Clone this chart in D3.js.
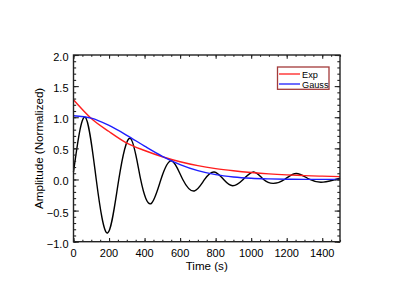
<!DOCTYPE html>
<html>
<head>
<meta charset="utf-8">
<script src="https://cdn.jsdelivr.net/npm/d3@7"></script>
<style>
  body { margin: 0; background: white; }
</style>
</head>
<body>
<script>
const width = 415, height = 297;

// data
const timeGrid = [0, 100, 200, 300, 400, 500, 600, 700, 800, 900, 1000, 1100, 1200, 1300, 1400, 1500];
const expValues = [1.28, 0.98, 0.77, 0.585, 0.465, 0.365, 0.285, 0.222, 0.175, 0.14, 0.112, 0.09, 0.074, 0.062, 0.053, 0.045];
const gaussValues = [1.025, 0.985, 0.868, 0.71, 0.536, 0.373, 0.24, 0.142, 0.078, 0.04, 0.019, 0.009, 0.004, 0.002, 0.001, 0.001];

const signalTime = [0, 65, 128, 192, 255, 320, 378, 435, 492, 552, 615, 680, 738, 792, 845, 896, 955, 1014, 1070, 1125, 1188, 1254, 1330, 1405, 1500];
const signalValues = [0.12, 1.0, 0.0, -0.86, 0.0, 0.66, 0.0, -0.39, 0.0, 0.3, 0.0, -0.185, 0.0, 0.12, 0.0, -0.1, 0.0, 0.12, 0.0, -0.062, 0.0, 0.097, 0.0, -0.043, 0.02];

const xMajor = [0, 200, 400, 600, 800, 1000, 1200, 1400];
const yMajor = [-1.0, -0.5, 0.0, 0.5, 1.0, 1.5, 2.0];
const legendNames = ["Exp", "Gauss"];
const legendColors = ["#ff1e1e", "#1e1eff"];

const plotLeft = 73.5, plotRight = 340, plotTop = 55, plotBottom = 241.7;

const x = d3.scaleLinear().domain([0, 1500]).range([plotLeft, plotRight]);
const y = d3.scaleLinear().domain([-1.0, 2.0]).range([plotBottom, plotTop]);

const svg = d3.select("body").append("svg")
    .attr("width", width)
    .attr("height", height)
    .style("font-family", "Liberation Sans, Arial, sans-serif");

svg.append("rect")
    .attr("width", width)
    .attr("height", height)
    .attr("fill", "white");

// curves
const line = d3.line()
    .x(d => x(d[0]))
    .y(d => y(d[1]))
    .curve(d3.curveMonotoneX);

const plot = svg.append("g");

plot.append("path")
    .datum(signalTime.map((t, i) => [t, signalValues[i]]))
    .attr("d", line.curve(d3.curveNatural))
    .attr("fill", "none")
    .attr("stroke", "black")
    .attr("stroke-width", 1.4);

line.curve(d3.curveMonotoneX);

plot.append("path")
    .datum(timeGrid.map((t, i) => [t, expValues[i]]))
    .attr("d", line)
    .attr("fill", "none")
    .attr("stroke", legendColors[0])
    .attr("stroke-width", 1.4);

plot.append("path")
    .datum(timeGrid.map((t, i) => [t, gaussValues[i]]))
    .attr("d", line)
    .attr("fill", "none")
    .attr("stroke", legendColors[1])
    .attr("stroke-width", 1.4);

// box axes, ticks pointing inward on all sides
const xTickLen = 3.7, yTickLen = 5.3;

svg.append("g")
    .attr("transform", `translate(0,${plotBottom})`)
    .call(d3.axisTop(x).tickValues(d3.range(0, 1501, 50)).tickSize(xTickLen / 2).tickFormat(""));
svg.append("g")
    .attr("transform", `translate(0,${plotBottom})`)
    .call(d3.axisTop(x).tickValues(xMajor).tickSize(xTickLen).tickFormat(""));
svg.append("g")
    .attr("transform", `translate(0,${plotTop})`)
    .call(d3.axisBottom(x).tickValues(d3.range(0, 1501, 50)).tickSize(xTickLen / 2).tickFormat(""));
svg.append("g")
    .attr("transform", `translate(0,${plotTop})`)
    .call(d3.axisBottom(x).tickValues(xMajor).tickSize(xTickLen).tickFormat(""));

const yMinor = d3.range(-10, 21).map(v => v / 10);
svg.append("g")
    .attr("transform", `translate(${plotLeft},0)`)
    .call(d3.axisRight(y).tickValues(yMinor).tickSize(yTickLen / 2).tickFormat(""));
svg.append("g")
    .attr("transform", `translate(${plotLeft},0)`)
    .call(d3.axisRight(y).tickValues(yMajor).tickSize(yTickLen).tickFormat(""));
svg.append("g")
    .attr("transform", `translate(${plotRight},0)`)
    .call(d3.axisLeft(y).tickValues(yMinor).tickSize(yTickLen / 2).tickFormat(""));
svg.append("g")
    .attr("transform", `translate(${plotRight},0)`)
    .call(d3.axisLeft(y).tickValues(yMajor).tickSize(yTickLen).tickFormat(""));

svg.selectAll(".domain").remove();
svg.selectAll(".tick line")
    .attr("stroke", "#222")
    .attr("stroke-width", 1.1);

svg.append("rect")
    .attr("x", plotLeft)
    .attr("y", plotTop)
    .attr("width", plotRight - plotLeft)
    .attr("height", plotBottom - plotTop)
    .attr("fill", "none")
    .attr("stroke", "#222")
    .attr("stroke-width", 1.4);

// tick labels
svg.append("g").selectAll("text")
    .data(xMajor)
    .join("text")
    .attr("x", d => x(d))
    .attr("y", 257)
    .attr("text-anchor", "middle")
    .attr("font-size", 11)
    .attr("fill", "black")
    .text(d => d);

svg.append("g").selectAll("text")
    .data(yMajor)
    .join("text")
    .attr("x", 68.5)
    .attr("y", d => y(d) + 6)
    .attr("text-anchor", "end")
    .attr("font-size", 11)
    .attr("fill", "black")
    .text(d => d3.format(".1f")(d));

// axis titles
svg.append("text")
    .attr("x", (plotLeft + plotRight) / 2)
    .attr("y", 269.5)
    .attr("text-anchor", "middle")
    .attr("font-size", 11.6)
    .attr("fill", "black")
    .text("Time (s)");

svg.append("text")
    .attr("transform", `translate(42.8,${(plotTop + plotBottom) / 2}) rotate(-90)`)
    .attr("text-anchor", "middle")
    .attr("font-size", 11.6)
    .attr("fill", "black")
    .text("Amplitude (Normalized)");

// legend
const legend = svg.append("g");

legend.append("rect")
    .attr("x", 277.5)
    .attr("y", 67)
    .attr("width", 51.5)
    .attr("height", 22.3)
    .attr("fill", "white")
    .attr("stroke", "#a33a3a")
    .attr("stroke-width", 1.3);

legendNames.forEach((name, i) => {
  legend.append("line")
      .attr("x1", 279)
      .attr("x2", 300)
      .attr("y1", 74 + i * 10)
      .attr("y2", 74 + i * 10)
      .attr("stroke", legendColors[i])
      .attr("stroke-width", 1.3);
  legend.append("text")
      .attr("x", 302)
      .attr("y", 77.5 + i * 10)
      .attr("font-size", 9.2)
      .attr("fill", "black")
      .text(name);
});
</script>
</body>
</html>
